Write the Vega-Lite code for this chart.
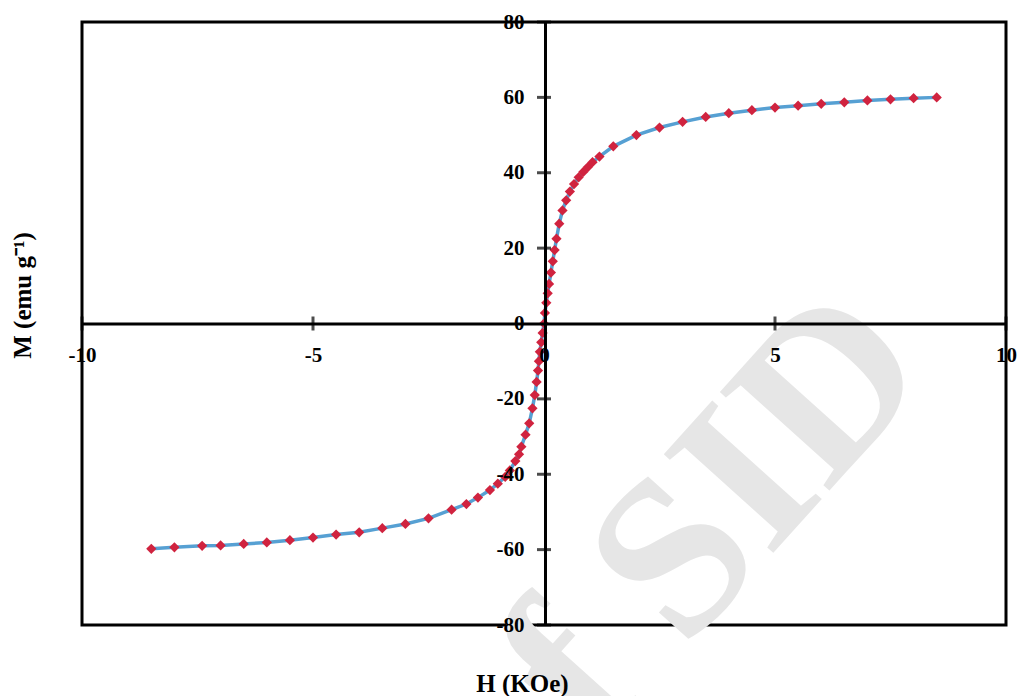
{
  "$schema": "https://vega.github.io/schema/vega-lite/v6.json",
  "autosize": {"type": "none"},
  "padding": {"left": 82, "top": 22, "right": 15, "bottom": 71},
  "width": 924,
  "height": 603,
  "background": "white",
  "config": {
    "view": {"stroke": "black", "strokeWidth": 3},
    "axis": {
      "grid": false,
      "labelFont": "Liberation Serif",
      "labelFontWeight": "bold",
      "labelFontSize": 21,
      "labelColor": "black",
      "labelExpr": "replace(datum.label, '\u2212', '-')",
      "titleFont": "Liberation Serif",
      "titleFontWeight": "bold",
      "titleFontSize": 25,
      "titleColor": "black",
      "domainColor": "black",
      "domainWidth": 3,
      "ticks": false,
      "tickSize": 0,
      "labelFlush": false,
      "labelOverlap": false
    }
  },
  "datasets": {
    "curve": [
      {"H": -8.5, "M": -59.8}, {"H": -8.0, "M": -59.4}, {"H": -7.4, "M": -59.0}, {"H": -7.0, "M": -58.9},
      {"H": -6.5, "M": -58.5}, {"H": -6.0, "M": -58.1}, {"H": -5.5, "M": -57.5}, {"H": -5.0, "M": -56.8},
      {"H": -4.5, "M": -56.0}, {"H": -4.0, "M": -55.4}, {"H": -3.5, "M": -54.3}, {"H": -3.0, "M": -53.2},
      {"H": -2.5, "M": -51.7}, {"H": -2.0, "M": -49.4}, {"H": -1.68, "M": -47.9}, {"H": -1.43, "M": -46.2},
      {"H": -1.17, "M": -44.2}, {"H": -1.0, "M": -42.5}, {"H": -0.84, "M": -40.7}, {"H": -0.74, "M": -39.0},
      {"H": -0.62, "M": -36.5}, {"H": -0.54, "M": -34.7}, {"H": -0.49, "M": -32.7}, {"H": -0.40, "M": -29.5},
      {"H": -0.32, "M": -26.5}, {"H": -0.25, "M": -22.5}, {"H": -0.20, "M": -19.0}, {"H": -0.16, "M": -15.5},
      {"H": -0.13, "M": -12.5}, {"H": -0.11, "M": -10.0}, {"H": -0.09, "M": -7.5}, {"H": -0.06, "M": -5.0},
      {"H": -0.03, "M": -2.5}, {"H": 0.0, "M": 0.0}, {"H": 0.02, "M": 2.8}, {"H": 0.05, "M": 5.5},
      {"H": 0.08, "M": 8.0}, {"H": 0.11, "M": 10.5}, {"H": 0.15, "M": 13.5}, {"H": 0.19, "M": 16.5},
      {"H": 0.23, "M": 19.5}, {"H": 0.27, "M": 22.5}, {"H": 0.33, "M": 26.5}, {"H": 0.40, "M": 30.0},
      {"H": 0.48, "M": 32.7}, {"H": 0.56, "M": 35.0}, {"H": 0.65, "M": 37.0}, {"H": 0.75, "M": 38.8},
      {"H": 0.85, "M": 40.2}, {"H": 0.95, "M": 41.5}, {"H": 1.05, "M": 42.8}, {"H": 1.2, "M": 44.3},
      {"H": 1.5, "M": 47.0}, {"H": 2.0, "M": 50.0}, {"H": 2.5, "M": 52.0}, {"H": 3.0, "M": 53.5},
      {"H": 3.5, "M": 54.8}, {"H": 4.0, "M": 55.8}, {"H": 4.5, "M": 56.6}, {"H": 5.0, "M": 57.3},
      {"H": 5.5, "M": 57.8}, {"H": 6.0, "M": 58.3}, {"H": 6.5, "M": 58.7}, {"H": 7.0, "M": 59.2},
      {"H": 7.5, "M": 59.5}, {"H": 8.0, "M": 59.8}, {"H": 8.5, "M": 60.0}
    ],
    "xticks": [{"H": -10, "M": 0}, {"H": -5, "M": 0}, {"H": 5, "M": 0}, {"H": 10, "M": 0}],
    "yticks": [{"H": 0, "M": -80}, {"H": 0, "M": -60}, {"H": 0, "M": -40}, {"H": 0, "M": -20},
               {"H": 0, "M": 20}, {"H": 0, "M": 40}, {"H": 0, "M": 60}, {"H": 0, "M": 80}],
    "watermark": [{"H": 2.9, "M": -62, "label": "of SID"}]
  },
  "layer": [
    {
      "data": {"name": "watermark"},
      "mark": {"type": "text", "font": "Liberation Serif", "fontWeight": "bold", "fontSize": 225,
               "color": "#e6e6e6", "angle": -48, "align": "center", "baseline": "middle"},
      "encoding": {
        "x": {"field": "H", "type": "quantitative"},
        "y": {"field": "M", "type": "quantitative"},
        "text": {"field": "label"}
      }
    },
    {
      "data": {"name": "curve"},
      "mark": {"type": "line", "color": "#56a0d3", "strokeWidth": 3.5},
      "encoding": {
        "x": {
          "field": "H", "type": "quantitative",
          "scale": {"domain": [-10, 10], "nice": false},
          "axis": {
            "orient": "bottom", "offset": -301.5, "values": [-10, -5, 0, 5, 10], "zindex": 2,
            "labelPadding": 21, "title": "H (KOe)",
            "titleX": 440, "titleY": 360, "titleBaseline": "middle", "titleAnchor": null
          }
        },
        "y": {
          "field": "M", "type": "quantitative",
          "scale": {"domain": [-80, 80], "nice": false},
          "axis": {
            "orient": "left", "offset": -463, "values": [-80, -60, -40, -20, 0, 20, 40, 60, 80], "zindex": 2,
            "labelPadding": 21, "title": "M (emu g⁻¹)",
            "titleX": -523, "titleY": 273, "titleAngle": 270, "titleBaseline": "middle", "titleAlign": "center"
          }
        }
      }
    },
    {
      "data": {"name": "curve"},
      "mark": {"type": "point", "shape": "diamond", "filled": true, "color": "#d0233f", "size": 105, "opacity": 1},
      "encoding": {
        "x": {"field": "H", "type": "quantitative"},
        "y": {"field": "M", "type": "quantitative"}
      }
    },
    {
      "data": {"name": "xticks"},
      "mark": {"type": "tick", "orient": "vertical", "color": "black", "size": 14, "thickness": 3},
      "encoding": {
        "x": {"field": "H", "type": "quantitative"},
        "y": {"field": "M", "type": "quantitative"}
      }
    },
    {
      "data": {"name": "yticks"},
      "mark": {"type": "tick", "orient": "horizontal", "color": "black", "size": 14, "thickness": 3},
      "encoding": {
        "x": {"field": "H", "type": "quantitative"},
        "y": {"field": "M", "type": "quantitative"}
      }
    }
  ]
}
